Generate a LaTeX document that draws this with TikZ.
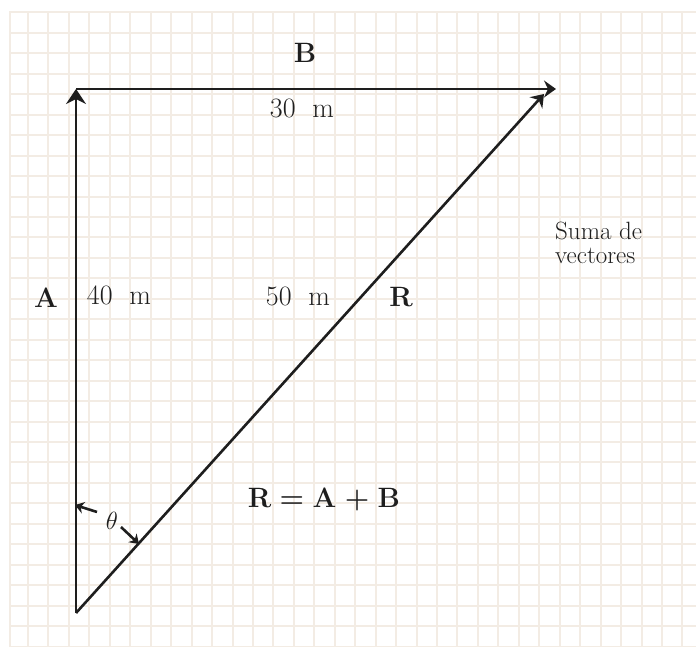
\documentclass[tikz,border=0pt]{standalone}
\usetikzlibrary{arrows.meta}
\definecolor{gridc}{RGB}{243,236,228}
\definecolor{ink}{RGB}{30,30,30}
\begin{document}
\begin{tikzpicture}[x=1pt,y=-1pt,
  gridline/.style={draw=gridc, line width=2pt},
  vec/.style={draw=ink, line width=2.6pt},
  bighead/.style={-{Stealth[length=15pt,width=20pt,inset=5pt]}},
  midhead/.style={-{Stealth[length=12pt,width=17pt,inset=4pt]}},
  smallhead/.style={-{Stealth[length=9pt,width=12pt,inset=3pt]}},
  lbl/.style={text=ink, font=\fontsize{28}{32}\selectfont, inner sep=0pt},
  blbl/.style={text=ink, font=\fontsize{28}{32}\selectfont\bfseries, inner sep=0pt},
  note/.style={text=ink, font=\fontsize{25}{24}\selectfont, inner sep=0pt, align=left}]
\useasboundingbox (0,0) rectangle (696,647);
\fill[white] (0,0) rectangle (696,647);
% grid
\foreach \k in {0,...,32} \draw[gridline] ({28+20.45*\k},12) -- ({28+20.45*\k},647);
\foreach \k in {0,...,30} \draw[gridline] (10,{33+20.45*\k}) -- (696,{33+20.45*\k});
\draw[gridline] (10,647) -- (10,12) -- (696,12);
% vertices
\coordinate (O) at (76,613);
\coordinate (P) at (76,89);
\coordinate (Q) at (556,89);
\coordinate (T) at (544,94);
% vectors
\draw[vec,midhead] (P) -- (Q);
\draw[vec,bighead] (O) -- (P);
\draw[vec,midhead] (O) -- (T);
% angle marks
\coordinate (a1) at (97,512);
\coordinate (a2) at (75,505);
\coordinate (b1) at (121,527);
\coordinate (b2) at (139,544);
\draw[vec,smallhead] (a1) -- (a2);
\draw[vec,smallhead] (b1) -- (b2);
\node[text=ink, inner sep=0pt, font=\fontsize{24}{26}\selectfont] (th) at (112,521) {$\theta$};
% labels
\node[blbl] (lB) at (305,53) {B};
\node[lbl] (l30) at (302,108) {30\hspace{0.6em}m};
\node[blbl] (lA) at (46,298) {A};
\node[lbl] (l40) at (119,295) {40\hspace{0.6em}m};
\node[lbl] (l50) at (298,296) {50\hspace{0.6em}m};
\node[blbl] (lR) at (401,297) {R};
\node[note, anchor=west] (sum) at (555,243) {Suma de\\vectores};
\node[blbl] (eq) at (324,499) {R\hspace{0.3em}=\hspace{0.3em}A\hspace{0.3em}+\hspace{0.3em}B};
\end{tikzpicture}
\end{document}
